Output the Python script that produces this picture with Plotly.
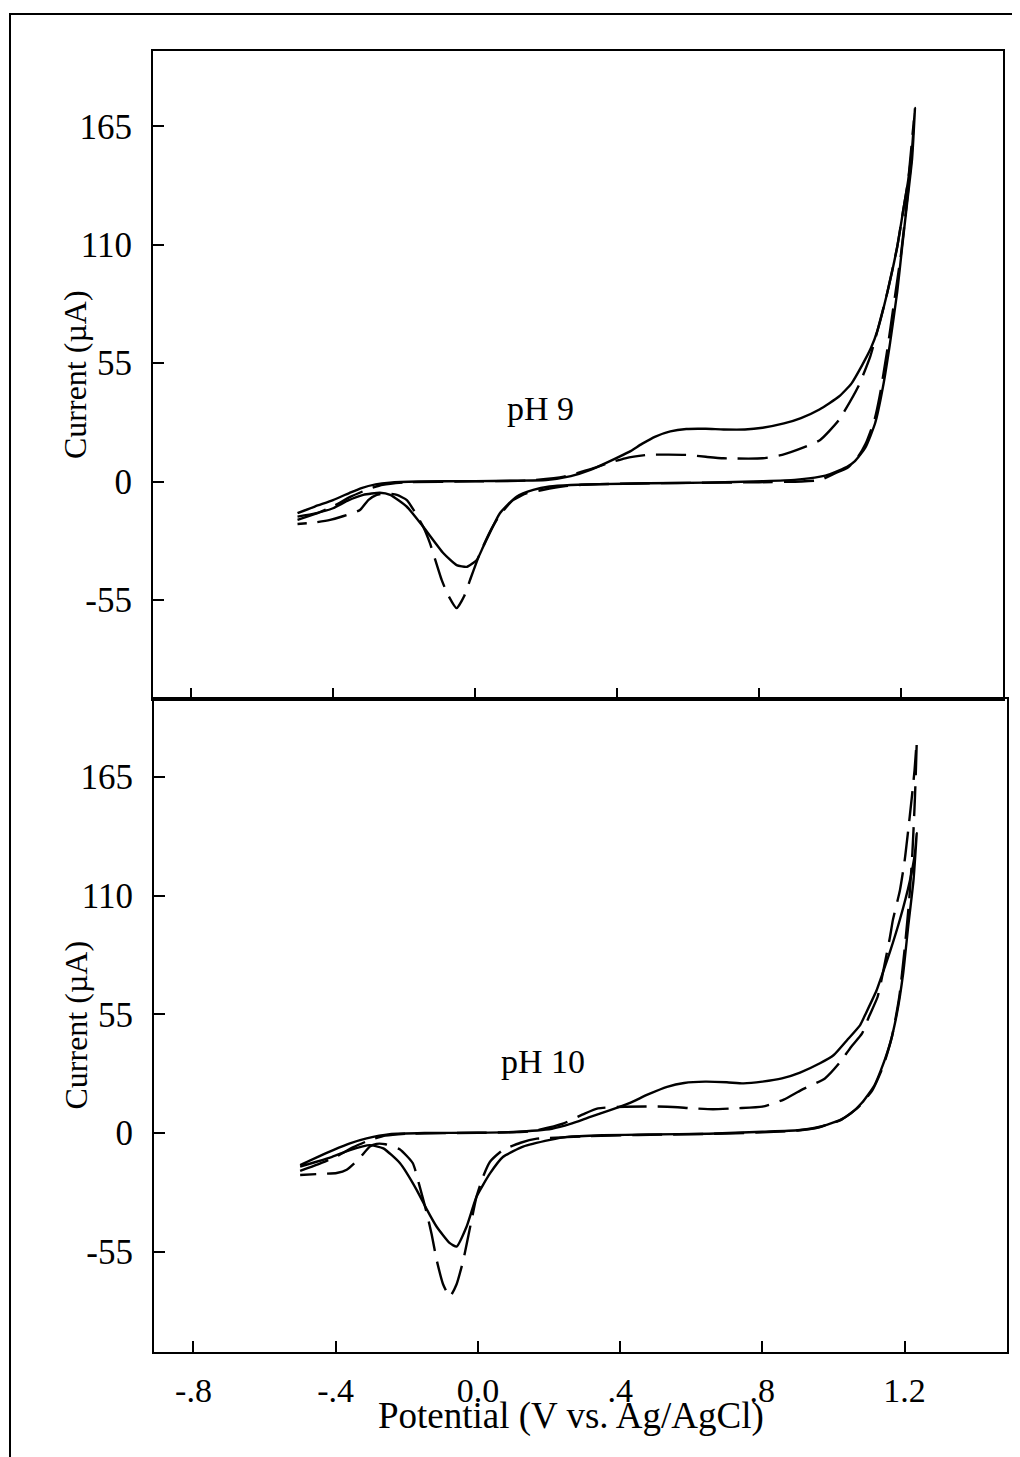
import plotly.graph_objects as go

# ---- pH 9 (top panel) ----
ph9_solid_v = [-0.50, -0.45, -0.40, -0.35, -0.32, -0.28, -0.24, -0.16, 0.00, 0.10, 0.20, 0.27, 0.325,
               0.38, 0.434, 0.47, 0.508, 0.55, 0.595, 0.65, 0.70, 0.76, 0.81, 0.87, 0.918, 0.97, 1.025,
               1.06, 1.09, 1.115, 1.134, 1.161, 1.189, 1.206, 1.220, 1.231, 1.239,
               1.231, 1.217, 1.203, 1.189, 1.169, 1.149, 1.127, 1.10, 1.07, 1.048, 1.00, 0.972, 0.90,
               0.81, 0.65, 0.49, 0.35, 0.27, 0.21, 0.164, 0.117, 0.07, 0.023, 0.005, -0.023, -0.052,
               -0.089, -0.146, -0.192, -0.239, -0.268, -0.315, -0.36, -0.40, -0.45, -0.50]
ph9_solid_i = [-14.7, -11.5, -8.6, -5.0, -3.0, -1.3, -0.5, 0.0, 0.2, 0.4, 0.7, 2.5, 5.4,
               9.5, 13.8, 17.5, 20.9, 23.3, 24.4, 24.5, 24.2, 24.2, 25.0, 27.0, 29.5, 33.5, 39.5,
               45.5, 54.0, 62.0, 70.5, 87.7, 109, 126, 140, 155, 173.5,
               150, 129.5, 109, 88, 64.5, 44, 27.2, 16, 9.5, 6.9, 3.5, 2.3, 0.8,
               0.2, -0.5, -0.8, -1.2, -1.6, -2.3, -3.9, -7.0, -14.7, -30.3, -36.4, -39.6, -38.8,
               -33.3, -21, -11.7, -6.2, -5.2, -6.2, -9.0, -12.4, -14.8, -16.3]

ph9_dash_v = [-0.50, -0.45, -0.40, -0.35, -0.30, -0.26, -0.20, 0.00, 0.15, 0.25, 0.33, 0.38, 0.423,
              0.487, 0.595, 0.65, 0.70, 0.81, 0.865, 0.92, 0.972, 1.025, 1.079, 1.113, 1.134, 1.161,
              1.189, 1.206, 1.22, 1.236,
              1.228, 1.215, 1.20, 1.18, 1.16, 1.14, 1.125, 1.10, 1.079, 1.05, 1.015, 0.972, 0.918,
              0.80, 0.60, 0.45, 0.30, 0.25, 0.19, 0.146, 0.107, 0.07, 0.042, 0.014, -0.014, -0.03,
              -0.052, -0.075, -0.094, -0.127, -0.146, -0.17, -0.192, -0.22, -0.25, -0.277, -0.30,
              -0.324, -0.37, -0.408, -0.45, -0.50]
ph9_dash_i = [-17.8, -15.0, -11.5, -7.0, -3.5, -1.5, -0.4, 0.1, 0.5, 2.3, 6.0, 8.8, 10.8,
              12.4, 12.4, 11.5, 10.8, 10.8, 12.4, 15.5, 19.3, 28.6, 44, 58, 70.5, 87.7,
              109, 126, 140, 168,
              148, 128, 106, 83, 60, 40, 28.6, 17.5, 11.6, 6.5, 3.9, 0.7, 0.0,
              -0.3, -0.6, -0.9, -1.5, -2.2, -3.9, -5.4, -8.6, -15.5, -23.3, -33.3, -45.7, -53,
              -58.8, -53, -45.7, -28.6, -21, -14, -8.6, -6.2, -5.5, -6.2, -8.5,
              -13.2, -16.0, -17.8, -19.0, -19.7]

# ---- pH 10 (bottom panel) ----
ph10_solid_v = [-0.50, -0.45, -0.407, -0.36, -0.313, -0.248, -0.15, 0.0, 0.10, 0.208, 0.26, 0.316,
                0.37, 0.424, 0.48, 0.532, 0.58, 0.639, 0.70, 0.747, 0.80, 0.855, 0.906, 0.962, 1.0,
                1.038, 1.075, 1.091, 1.121, 1.134, 1.159, 1.187, 1.215, 1.229, 1.234,
                1.225, 1.21, 1.196, 1.178, 1.16, 1.14, 1.115, 1.08, 1.049, 1.018, 0.962, 0.90, 0.80,
                0.65, 0.478, 0.35, 0.25, 0.203, 0.127, 0.071, 0.034, -0.004, -0.032, -0.06, -0.079,
                -0.116, -0.145, -0.172, -0.219, -0.266, -0.304, -0.36, -0.41, -0.454, -0.50]
ph10_solid_i = [-14.8, -11.0, -7.9, -4.8, -2.5, -0.5, 0.0, 0.1, 0.5, 2.0, 4.2, 7.5,
                10.5, 13.7, 18.0, 21.4, 23.2, 23.8, 23.5, 23.0, 23.8, 25.3, 28.0, 32.3, 36,
                43, 50, 55.4, 66, 72, 84, 99, 117, 129.5, 138.8,
                117, 95.5, 74, 55, 42, 32, 22, 14, 9.1, 6.0, 2.9, 1.3, 0.6,
                -0.3, -0.7, -1.0, -1.8, -3.2, -6.3, -11, -18.7, -29.5, -43.4, -52.6, -51,
                -43.4, -35, -26.4, -14, -7.1, -5.6, -7.9, -11, -13.3, -15.6]

ph10_dash_v = [-0.50, -0.45, -0.40, -0.35, -0.30, -0.26, -0.20, 0.0, 0.15, 0.241, 0.30, 0.338,
               0.413, 0.532, 0.60, 0.661, 0.73, 0.80, 0.86, 0.909, 0.976, 1.016, 1.05, 1.08, 1.10,
               1.124, 1.14, 1.159, 1.167, 1.187, 1.20, 1.21, 1.22, 1.228, 1.234,
               1.229, 1.222, 1.213, 1.20, 1.185, 1.165, 1.14, 1.11, 1.07, 1.02, 0.96, 0.90, 0.80,
               0.65, 0.45, 0.30, 0.20, 0.166, 0.12, 0.07, 0.034, 0.015, -0.004, -0.02, -0.041,
               -0.06, -0.079, -0.098, -0.116, -0.13, -0.144, -0.165, -0.183, -0.22, -0.26, -0.285,
               -0.304, -0.335, -0.369, -0.397, -0.45, -0.50]
ph10_dash_i = [-17.5, -14.5, -11.0, -6.5, -3.0, -1.2, -0.3, 0.1, 0.8, 4.5, 9.0, 11.4,
               12.2, 12.2, 11.5, 11.0, 11.5, 12.2, 15.5, 19.9, 25.3, 32.3, 40, 46, 54,
               63, 75, 90.9, 98.6, 112.5, 126, 140, 155, 168, 181,
               155, 130, 108, 85, 63, 45, 31, 20, 12, 6.0, 2.7, 1.2, 0.3,
               -0.4, -0.9, -1.5, -2.3, -2.6, -4.5, -7.9, -13.3, -20, -29.5, -42, -58.8,
               -70, -75.8, -70, -58.8, -47, -37, -24, -14, -7.5, -5.2, -5.0,
               -6.3, -12, -17.0, -18.5, -19.0, -19.4]

y_ticks = [-55, 0, 55, 110, 165]
y_tick_text = ["-55", "0", "55", "110", "165"]
x_ticks = [-0.8, -0.4, 0.0, 0.4, 0.8, 1.2]
x_tick_text = ["-.8", "-.4", "0.0", ".4", ".8", "1.2"]
panel_labels = ["pH 9", "pH 10"]

FONT = "Liberation Serif, Times New Roman, serif"
# the page body keeps an 8px margin, so the figure is sized to end at the window edge
OFF = 8
W, H = 1020 - OFF, 1457 - OFF
L, T, B = 153 - OFF, 51 - OFF, 1457 - 1352
R = W - (1007 - OFF)
PW, PH = W - L - R, H - T - B
split = (1352 - 699) / PH


def px(xp):
    return (xp - 153) / PW


def py(yp):
    return (1352 - yp) / PH


fig = go.Figure()
line_solid = dict(color="black", width=2.4, shape="spline", smoothing=0.5)
line_dash = dict(color="black", width=2.4, dash="30px,11px", shape="spline", smoothing=0.5)

fig.add_trace(go.Scatter(x=ph9_solid_v, y=ph9_solid_i, mode="lines", line=line_solid, xaxis="x", yaxis="y"))
fig.add_trace(go.Scatter(x=ph9_dash_v, y=ph9_dash_i, mode="lines", line=line_dash, xaxis="x", yaxis="y"))
fig.add_trace(go.Scatter(x=ph10_solid_v, y=ph10_solid_i, mode="lines", line=line_solid, xaxis="x2", yaxis="y2"))
fig.add_trace(go.Scatter(x=ph10_dash_v, y=ph10_dash_i, mode="lines", line=line_dash, xaxis="x2", yaxis="y2"))

axis_common = dict(showline=True, linecolor="black", linewidth=2, mirror=True, ticks="inside",
                   ticklen=11, tickwidth=2, tickcolor="black", showgrid=False, zeroline=False,
                   tickfont=dict(family=FONT, size=35, color="black"))

fig.update_layout(
    width=W, height=H,
    margin=dict(l=L, r=R, t=T, b=B),
    paper_bgcolor="white", plot_bgcolor="white",
    showlegend=False,
    xaxis=dict(axis_common, domain=[0, 850 / PW], range=[-0.907, 1.487], anchor="y",
               tickvals=x_ticks, showticklabels=False),
    yaxis=dict(axis_common, domain=[split, 1], range=[-101, 200], anchor="x",
               tickvals=y_ticks, ticktext=y_tick_text, ticklabelstandoff=12),
    xaxis2=dict(axis_common, domain=[1 / PW, 1], range=[-0.911, 1.488], anchor="y2",
                tickvals=x_ticks, ticktext=x_tick_text, ticklabelstandoff=7,
                tickfont=dict(family=FONT, size=34, color="black")),
    yaxis2=dict(axis_common, domain=[0, split], range=[-101.4, 201], anchor="x2",
                tickvals=y_ticks, ticktext=y_tick_text, ticklabelstandoff=12),
)

# panel labels
fig.add_annotation(x=0.183, y=33.8, xref="x", yref="y", text=panel_labels[0], showarrow=False,
                   font=dict(family=FONT, size=34, color="black"))
fig.add_annotation(x=0.183, y=32.9, xref="x2", yref="y2", text=panel_labels[1], showarrow=False,
                   font=dict(family=FONT, size=34, color="black"))

# axis titles
for yc in [(split + 1) / 2, split / 2]:
    fig.add_annotation(x=px(75), y=yc, xref="paper", yref="paper", text="Current (\u00b5A)",
                       textangle=-90, showarrow=False, xanchor="center", yanchor="middle",
                       font=dict(family=FONT, size=32, color="black"))
fig.add_annotation(x=px(571), y=py(1416), xref="paper", yref="paper",
                   text="Potential (V vs. Ag/AgCl)", showarrow=False, xanchor="center", yanchor="middle",
                   font=dict(family=FONT, size=37, color="black"))

# outer page frame
fig.add_shape(type="rect", xref="paper", yref="paper",
              x0=px(10), x1=px(1040), y0=py(1480), y1=py(14),
              line=dict(color="black", width=2), layer="below")

fig.write_html("out.html")
